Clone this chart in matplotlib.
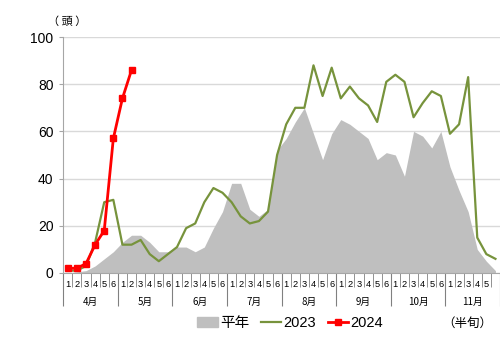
import numpy as np
import matplotlib
matplotlib.use('Agg')
import matplotlib.pyplot as plt
from matplotlib.patches import Patch
from matplotlib.lines import Line2D

plt.rcParams['font.family'] = ['Liberation Sans', 'Noto Sans CJK JP', 'DejaVu Sans']
cjk = ['Noto Sans CJK JP', 'DejaVu Sans']

months = ['4月', '5月', '6月', '7月', '8月', '9月', '10月', '11月']
halves = ['1', '2', '3', '4', '5', '6']

# 平年 (average), 2023, 2024 - per half-month period (半旬), Apr 1 .. Nov 6
avg = [0, 0.5, 1, 3, 6, 9,
       13, 16, 16, 13, 9, 9,
       11, 11, 9, 11, 19, 26,
       38, 38, 27, 24, 27, 52,
       57, 64, 70, 59, 48, 59,
       65, 63, 60, 57, 48, 51,
       50, 41, 60, 58, 53, 60,
       45, 35, 26, 10, 5, 1]
y2023 = [1, 1, 3, 13, 30, 31,
         12, 12, 14, 8, 5, 8,
         11, 19, 21, 30, 36, 34,
         30, 24, 21, 22, 26, 50,
         63, 70, 70, 88, 75, 87,
         74, 79, 74, 71, 64, 81,
         84, 81, 66, 72, 77, 75,
         59, 63, 83, 15, 8, 6]
y2024 = [2, 2, 4, 12, 18, 57, 74, 86]

fig = plt.figure(figsize=(5, 3.56), dpi=100)
ax = fig.add_axes([63.3 / 500, 83 / 356, 1 - 63.3 / 500, 236 / 356])

x = np.arange(len(avg))
ax.fill_between(x, avg, color='#BFBFBF', linewidth=0, zorder=1)
ax.plot(x, y2023, color='#77933C', linewidth=1.6, zorder=2)
ax.plot(np.arange(len(y2024)), y2024, color='#FF0000', linewidth=2,
        marker='s', markersize=4, zorder=3)

xmax = 46.9
ax.set_xlim(-0.5, xmax)
ax.set_ylim(0, 100)
ax.set_yticks(range(0, 101, 20))
ax.tick_params(axis='y', labelsize=10, length=3, color='#A6A6A6', pad=4)
ax.grid(axis='y', color='#D9D9D9', linewidth=1)
ax.set_axisbelow(True)

for s in ['top', 'right']:
    ax.spines[s].set_visible(False)
for s in ['left', 'bottom']:
    ax.spines[s].set_color('#A6A6A6')

# category separators (short) and month separators (long)
ax.set_xticks(np.arange(-0.5, len(avg), 6))
ax.set_xticks(np.arange(-0.5, len(avg), 1), minor=True)
ax.tick_params(axis='x', which='major', length=24, color='#808080', labelbottom=False)
ax.tick_params(axis='x', which='minor', length=10, color='#808080')

trans = ax.get_xaxis_transform()
for i in range(len(avg)):
    if i < xmax:
        ax.text(i, -0.05, halves[i % 6], transform=trans, ha='center', va='center',
                fontsize=6.7, clip_on=False)
for m, name in enumerate(months):
    ax.text(m * 6 + 2.5, -0.123, name, transform=trans, ha='center', va='center',
            fontsize=7, family=cjk)

fig.text(67 / 500, 1 - 22 / 356, '（ 頭 ）', ha='center', va='center', fontsize=8, family=cjk)
fig.text(492 / 500, 1 - 323 / 356, '（半旬）', ha='right', va='center', fontsize=9, family=cjk)

handles = [Patch(color='#BFBFBF', label='平年'),
           Line2D([], [], color='#77933C', linewidth=1.6, label='2023'),
           Line2D([], [], color='#FF0000', linewidth=2, marker='s', markersize=4, label='2024')]
fig.legend(handles=handles, loc='center', bbox_to_anchor=(290 / 500, 1 - 323 / 356),
           ncol=3, frameon=False, fontsize=10.5, handlelength=1.4,
           handletextpad=0.15, columnspacing=0.8, borderaxespad=0)

fig.savefig('out.png', dpi=100)
